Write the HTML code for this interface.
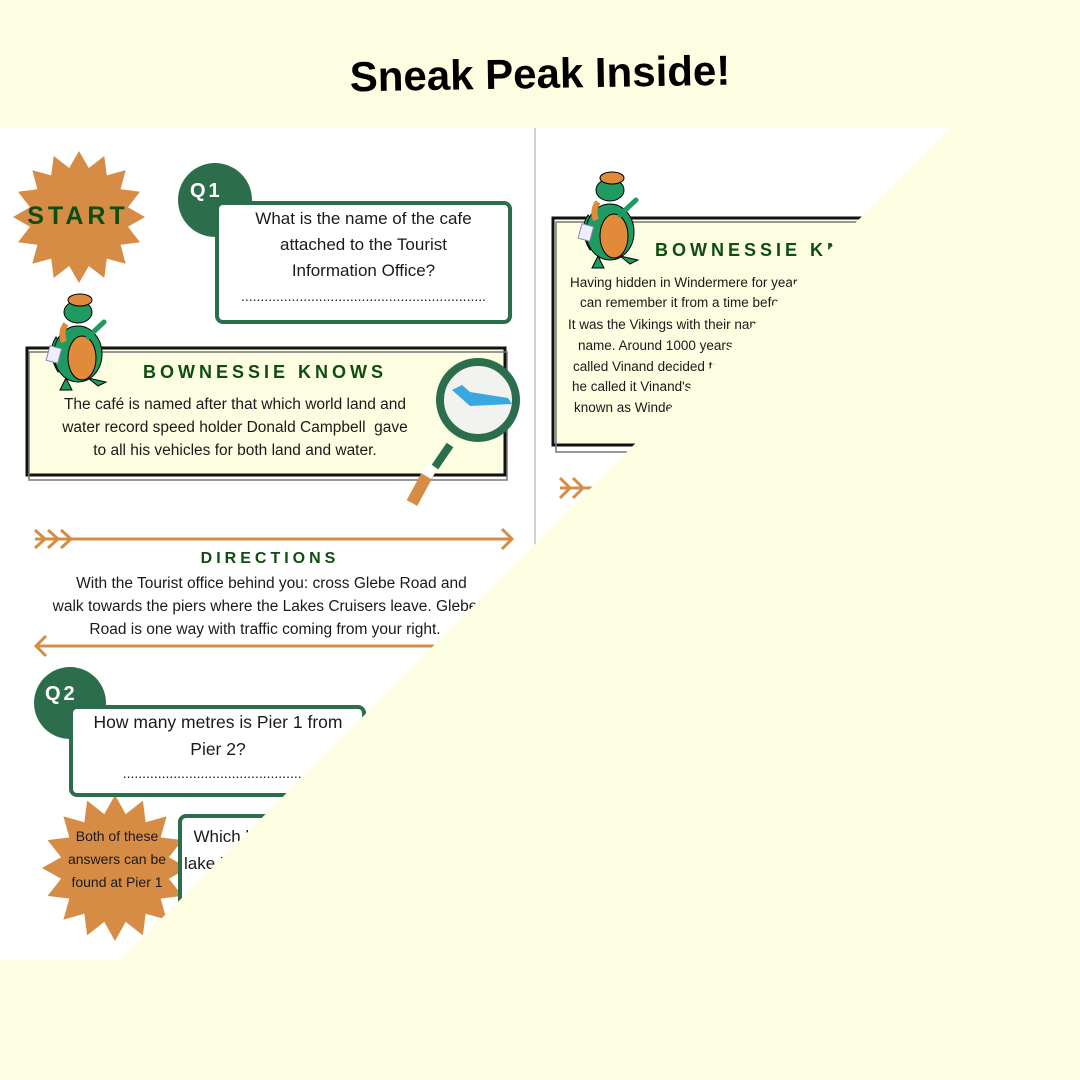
<!DOCTYPE html>
<html><head><meta charset="utf-8"><style>
html,body{margin:0;padding:0}
body{width:1080px;height:1080px;position:relative;overflow:hidden;background:#fdfde1;font-family:"Liberation Sans","DejaVu Sans",sans-serif;color:#1a1a1a}
.a{position:absolute}
.t{text-align:center;white-space:nowrap}
.h{font-weight:bold;color:#0e4d10;letter-spacing:4px}
.r{position:absolute;white-space:nowrap;font-size:13.5px}
</style></head><body>
<svg class="a" style="left:0;top:0" width="1080" height="1080" viewBox="0 0 1080 1080">
<defs>
<g id="dino">
 <path d="M20 80 Q8 60 18 45 L22 50 Q16 62 26 74Z" fill="#1f9a60" stroke="#000" stroke-width="1"/>
 <ellipse cx="40" cy="62" rx="24" ry="28" fill="#1f9a60" stroke="#000" stroke-width="1"/>
 <ellipse cx="44" cy="66" rx="14" ry="22" fill="#e08a3a" stroke="#000" stroke-width="1"/>
 <ellipse cx="40" cy="20" rx="14" ry="11" fill="#1f9a60" stroke="#000" stroke-width="1"/>
 <ellipse cx="42" cy="8" rx="12" ry="6" fill="#e08a3a" stroke="#000" stroke-width="1"/>
 <path d="M50 45 L66 30" stroke="#1f9a60" stroke-width="5" stroke-linecap="round"/>
 <rect x="10" y="55" width="12" height="15" fill="#eef" stroke="#88a" stroke-width="1" transform="rotate(15 16 62)"/>
 <path d="M28 86 L22 98 L34 98Z M50 86 L60 94 L68 90Z" fill="#1f9a60" stroke="#000" stroke-width="1"/>
 <path d="M28 32 Q22 40 26 50" stroke="#e08a3a" stroke-width="6" fill="none"/>
</g>
</defs>
<rect x="0" y="128" width="950" height="832" fill="#fff"/>
<line x1="535" y1="120" x2="535" y2="550" stroke="#d0d0d0" stroke-width="2"/>
<polygon id="s1" fill="#d68c45"/>
<polygon id="s2" fill="#d68c45"/>
<circle cx="215" cy="200" r="37" fill="#2c6e4b"/>
<rect x="217" y="203" width="293" height="119" rx="6" fill="#fff" stroke="#2c6e4b" stroke-width="4"/>
<rect x="27" y="348" width="478" height="127" fill="#fdfde1" stroke="#111" stroke-width="3"/>
<rect x="29" y="352" width="478" height="128" fill="none" stroke="#777" stroke-width="1.5"/>
<use href="#dino" x="38" y="292"/>
<line x1="450" y1="445" x2="435" y2="467" stroke="#2c6e4b" stroke-width="8"/>
<line x1="432" y1="466" x2="412" y2="503" stroke="#d68c45" stroke-width="12"/>
<line x1="432" y1="466" x2="426" y2="476" stroke="#fff" stroke-width="12"/>
<circle cx="478" cy="400" r="38" fill="#f2f2f0" stroke="#2c6e4b" stroke-width="8"/>
<path d="M452 390 L462 385 L470 392 L508 398 L512 404 L470 406Z" fill="#3aa8e0"/>
<g stroke="#d68c45" stroke-width="3" fill="none">
<line x1="35" y1="539" x2="512" y2="539"/>
<path d="M35 530 L45 539 L35 548 M48 530 L58 539 L48 548 M61 530 L71 539 L61 548 M502 529 L512 539 L502 549"/>
<line x1="36" y1="646" x2="500" y2="646"/>
<path d="M46 636 L36 646 L46 656"/>
<path d="M560 478 L570 488 L560 498 M573 478 L583 488 L573 498 M560 488 L600 488"/>
</g>
<circle cx="70" cy="703" r="36" fill="#2c6e4b"/>
<rect x="71" y="707" width="293" height="88" rx="6" fill="#fff" stroke="#2c6e4b" stroke-width="4"/>
<rect x="180" y="816" width="200" height="120" rx="6" fill="#fff" stroke="#2c6e4b" stroke-width="4"/>
<rect x="553" y="218" width="400" height="227" fill="#fdfde1" stroke="#111" stroke-width="3"/>
<rect x="556" y="222" width="400" height="230" fill="none" stroke="#777" stroke-width="1.5"/>
<use href="#dino" x="570" y="170"/>
</svg>
<div class="a h" style="left:18px;top:202px;width:120px;text-align:center;font-size:25px">START</div>
<div class="a" style="left:190px;top:180px;font-size:20px;font-weight:bold;color:#fff;letter-spacing:3px">Q1</div>
<div class="a t" style="left:217px;top:206px;width:293px;font-size:17px;line-height:26px">What is the name of the cafe<br>attached to the Tourist<br>Information Office?</div>
<div class="a t" style="left:217px;top:288px;width:293px;font-size:14px">...............................................................</div>
<div class="a h" style="left:100px;top:362px;width:330px;text-align:center;font-size:18px">BOWNESSIE KNOWS</div>
<div class="a t" style="left:35px;top:393px;width:400px;font-size:15.5px;line-height:23px">The café is named after that which world land and<br>water record speed holder Donald Campbell&nbsp; gave<br>to all his vehicles for both land and water.</div>
<div class="a h" style="left:120px;top:550px;width:300px;text-align:center;font-size:16px">DIRECTIONS</div>
<div class="a t" style="left:35px;top:572px;width:460px;font-size:15.5px;line-height:23px">&nbsp;&nbsp;&nbsp;With the Tourist office behind you: cross Glebe Road and<br>walk towards the piers where the Lakes Cruisers leave. Glebe<br>Road is one way with traffic coming from your right.</div>
<div class="a" style="left:45px;top:683px;font-size:20px;font-weight:bold;color:#fff;letter-spacing:3px">Q2</div>
<div class="a t" style="left:73px;top:709px;width:290px;font-size:17.5px;line-height:27px">How many metres is Pier 1 from<br>Pier 2?</div>
<div class="a t" style="left:73px;top:765px;width:290px;font-size:14px">.................................................</div>
<div class="a t" style="left:55px;top:825px;width:124px;font-size:14px;line-height:23px">Both of these<br>answers can be<br>found at Pier 1</div>
<div class="a" style="left:184px;top:823px;font-size:17px;line-height:27px;white-space:nowrap">&nbsp;&nbsp;Which lake is<br>lake is the largest</div>
<div class="a h" style="left:655px;top:240px;width:300px;font-size:18px;white-space:nowrap">BOWNESSIE KNOWS</div>
<div class="r" style="left:570px;top:275px">Having hidden in Windermere for years I</div>
<div class="r" style="left:580px;top:295px">can remember it from a time before.</div>
<div class="r" style="left:568px;top:317px">It was the Vikings with their name for it.</div>
<div class="r" style="left:578px;top:338px">name. Around 1000 years ago a Viking</div>
<div class="r" style="left:573px;top:359px">called Vinand decided to live here,</div>
<div class="r" style="left:572px;top:379px">he called it Vinand's mere, now</div>
<div class="r" style="left:574px;top:400px">known as Windermere.</div>
<svg class="a" style="left:0;top:0" width="1080" height="1080"><polygon points="0,0 1080,0 1080,1080 0,1080 0,960 120,960 950,128 0,128" fill="#fdfde1"/></svg>
<div class="a" style="left:0;top:50px;width:1080px;text-align:center;font-size:42px;font-weight:bold;color:#000;transform:rotate(-1deg)">Sneak Peak Inside!</div>
<script>
function star(id,cx,cy,R,r,n,rot){var p=[];for(var i=0;i<2*n;i++){var a=Math.PI*i/n+rot;var rr=i%2?r:R;p.push((cx+rr*Math.cos(a)).toFixed(1)+','+(cy+rr*Math.sin(a)).toFixed(1));}document.getElementById(id).setAttribute('points',p.join(' '));}
star('s1',79,217,66,50,16,-Math.PI/2);
star('s2',115,868,73,55,16,-Math.PI/2);
</script>
</body></html>
